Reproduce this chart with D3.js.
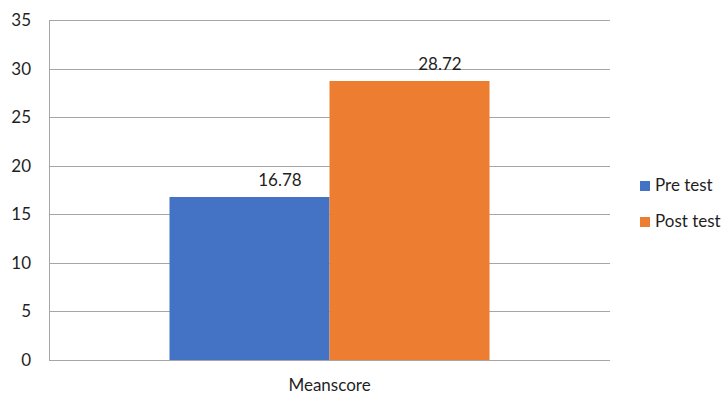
<html><head>
<script src="https://d3js.org/d3.v7.min.js"></script>
<style>
  body { margin: 0; background: #fff; }
  text { font-family: Lato, "Open Sans", sans-serif; fill: #1f1f1f; font-size: 17px; }
</style>
</head>
<body>
<svg id="chart" width="723" height="394"></svg>
<script>
// data
const categories = ["Meanscore"];
const series = ["Pre test", "Post test"];
const values = [16.78, 28.72];
const colors = ["#4472C4", "#ED7D31"];
const yTicks = [0, 5, 10, 15, 20, 25, 30, 35];

const svg = d3.select("#chart");
const plotLeft = 49, plotRight = 610, plotTop = 20, plotBottom = 360;

const y = d3.scaleLinear().domain([0, 35]).range([plotBottom, plotTop]);
const x0 = d3.scaleBand().domain(categories).range([plotLeft, plotRight]);
const x1 = d3.scaleBand().domain(series).range([0, x0.bandwidth()]).paddingOuter(0.753);
const color = d3.scaleOrdinal().domain(series).range(colors);

// gridlines
svg.append("g").selectAll("line").data(yTicks)
  .join("line")
  .attr("x1", plotLeft).attr("x2", plotRight)
  .attr("y1", d => Math.round(y(d)) + 0.5).attr("y2", d => Math.round(y(d)) + 0.5)
  .attr("stroke", "#a6a6a6").attr("stroke-width", 1);

// left axis line
svg.append("line")
  .attr("x1", plotLeft + 0.5).attr("x2", plotLeft + 0.5)
  .attr("y1", Math.round(y(35)) + 0.5).attr("y2", Math.round(y(0)) + 0.5)
  .attr("stroke", "#a6a6a6");

// tick labels
svg.append("g").selectAll("text").data(yTicks)
  .join("text")
  .attr("x", 31).attr("y", d => y(d) + 6)
  .attr("text-anchor", "end")
  .text(d => d);

// bars
const g = svg.append("g").attr("transform", "translate(" + x0(categories[0]) + ",0)");
g.selectAll("rect").data(series)
  .join("rect")
  .attr("x", d => x1(d))
  .attr("width", x1.bandwidth())
  .attr("y", (d, i) => y(values[i]))
  .attr("height", (d, i) => y(0) - y(values[i]))
  .attr("fill", d => color(d));

// baseline on top of bars
svg.append("line")
  .attr("x1", plotLeft).attr("x2", plotRight)
  .attr("y1", Math.round(y(0)) + 0.5).attr("y2", Math.round(y(0)) + 0.5)
  .attr("stroke", "#a6a6a6");

// value labels
g.selectAll("text.val").data(series)
  .join("text").attr("class", "val")
  .attr("x", d => x1(d) + x1.bandwidth() * 0.69)
  .attr("y", (d, i) => y(values[i]) - 11)
  .attr("text-anchor", "middle")
  .text((d, i) => values[i].toFixed(2));

// category label
svg.append("text")
  .attr("x", x0(categories[0]) + x0.bandwidth() / 2)
  .attr("y", 391)
  .attr("text-anchor", "middle")
  .text(categories[0]);

// legend
const legend = svg.append("g").selectAll("g").data(series)
  .join("g")
  .attr("transform", (d, i) => "translate(640," + (181 + i * 36) + ")");
legend.append("rect").attr("width", 10).attr("height", 10).attr("fill", d => color(d));
legend.append("text").attr("x", 15).attr("y", 10).text(d => d);
</script>
</body>
</html>
